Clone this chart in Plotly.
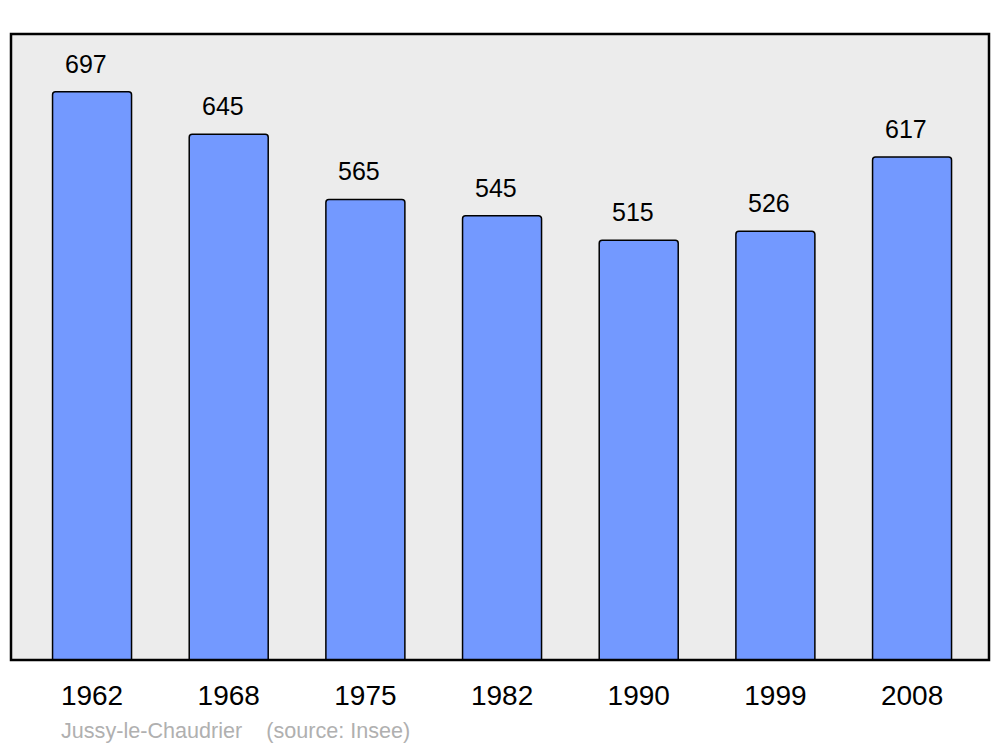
import plotly.graph_objects as go

years = ["1962", "1968", "1975", "1982", "1990", "1999", "2008"]
population = [697, 645, 565, 545, 515, 526, 617]
source_text = "Jussy-le-Chaudrier    (source: Insee)"

xpos = list(range(len(years)))

fig = go.Figure()
fig.add_trace(go.Bar(
    x=xpos, y=population, width=0.578,
    marker=dict(color="#7399FF", line=dict(color="black", width=1.5), cornerradius=3),
    hoverinfo="skip",
))

for i, v in zip(xpos, population):
    fig.add_annotation(x=i, y=v, text=str(v), showarrow=False, xshift=-6, yshift=28,
                       yanchor="middle", font=dict(size=25, color="black"))

fig.add_annotation(xref="paper", yref="paper", x=(59 - 11) / 978, y=(660 - 730) / 626,
                   text=source_text, showarrow=False, xanchor="left", yanchor="middle",
                   font=dict(size=21.6, color="#b0b0b0"))

fig.add_shape(type="rect", xref="paper", yref="paper", x0=0, y0=0, x1=1, y1=1,
              line=dict(color="black", width=2.5), layer="above")

fig.update_layout(
    width=1000, height=747,
    margin=dict(l=11, r=11, t=34, b=87),
    paper_bgcolor="white", plot_bgcolor="#ececec",
    font=dict(family="Liberation Sans, Arial, sans-serif", color="black"),
    showlegend=False,
    xaxis=dict(range=[-0.593, 6.563], tickvals=xpos, ticktext=years, showgrid=False,
               zeroline=False, ticks="outside", ticklen=10, tickcolor="rgba(0,0,0,0)",
               tickfont=dict(size=28), fixedrange=True),
    yaxis=dict(range=[0, 768], showgrid=False, zeroline=False, showticklabels=False,
               fixedrange=True),
)

fig.write_html("out.html", config={"displayModeBar": False},
               post_script="document.body.style.margin='0';")
